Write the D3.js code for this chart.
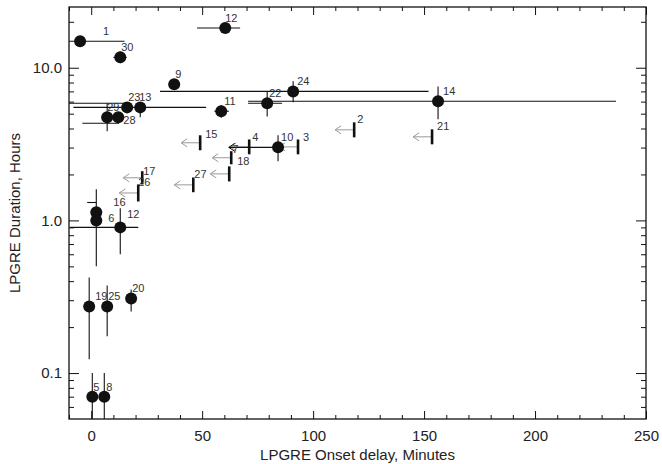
<!DOCTYPE html>
<html>
<head>
<meta charset="utf-8">
<script src="https://cdn.jsdelivr.net/npm/d3@7"></script>
<style>
  body { margin: 0; background: #fff; }
  text { font-family: "Liberation Sans", Arial, sans-serif; }
</style>
</head>
<body>
<script>
// events with measured onset delay (minutes) and duration (hours)
var points = [
  {id: "1",   x: -5,    y: 14.9},
  {id: "12a", x: 60.4,  y: 18.2},
  {id: "30",  x: 13.1,  y: 11.7},
  {id: "9",   x: 37.4,  y: 7.8},
  {id: "24",  x: 91,    y: 7.0},
  {id: "14",  x: 156.3, y: 6.03},
  {id: "22",  x: 79.3,  y: 5.85},
  {id: "11",  x: 58.6,  y: 5.19},
  {id: "23",  x: 16.2,  y: 5.5},
  {id: "13",  x: 22.1,  y: 5.5},
  {id: "29",  x: 7.2,   y: 4.74},
  {id: "28",  x: 12.2,  y: 4.74},
  {id: "10",  x: 84.2,  y: 3.01},
  {id: "16",  x: 2.3,   y: 1.13},
  {id: "6",   x: 2.3,   y: 1.0},
  {id: "12b", x: 13.1,  y: 0.90},
  {id: "19",  x: -0.9,  y: 0.273},
  {id: "25",  x: 7.2,   y: 0.273},
  {id: "20",  x: 18,    y: 0.308},
  {id: "5",   x: 0.5,   y: 0.070},
  {id: "8",   x: 5.9,   y: 0.070}
];

// horizontal error bars (minutes)
var xErr = [
  {id: "1",   lo: -10,  hi: 15},
  {id: "12a", lo: 47.7, hi: 67.1},
  {id: "30",  lo: 10,   hi: 16},
  {id: "24",  lo: 31,   hi: 152},
  {id: "14",  lo: 70.7, hi: 236.5},
  {id: "22",  lo: 70.7, hi: 86},
  {id: "11",  lo: 55.5, hi: 62},
  {id: "13",  lo: -8,   hi: 51.8},
  {id: "10",  lo: 62,   hi: 84.2},
  {id: "12b", lo: -9.5, hi: 21.2}
];

// vertical error bars (hours)
var yErr = [
  {id: "30",  lo: 10.7,  hi: 12.8},
  {id: "24",  lo: 5.94,  hi: 8.15},
  {id: "14",  lo: 4.6,   hi: 7.55},
  {id: "22",  lo: 4.8,   hi: 7.0},
  {id: "11",  lo: 4.7,   hi: 5.7},
  {id: "13",  lo: 4.74,  hi: 5.5},
  {id: "29",  lo: 3.83,  hi: 5.85},
  {id: "28",  lo: 4.33,  hi: 4.74},
  {id: "10",  lo: 2.44,  hi: 3.61},
  {id: "16",  lo: 1.13,  hi: 1.6},
  {id: "6",   lo: 0.5,   hi: 1.0},
  {id: "12b", lo: 0.6,   hi: 1.2},
  {id: "19",  lo: 0.123, hi: 0.423},
  {id: "25",  lo: 0.174, hi: 0.375},
  {id: "20",  lo: 0.253, hi: 0.353},
  {id: "5",   lo: 0.05,  hi: 0.1},
  {id: "8",   lo: 0.05,  hi: 0.1}
];

// loose horizontal bars without a marker
var extraBars = [
  {y: 5.85, x0: -10,  x1: 15.8},
  {y: 4.33, x0: -4,   x1: 12.6},
  {y: 1.31, x0: -1.8, x1: 2.3}
];

// upper limits on onset delay: bar spans the duration range
var limits = [
  {id: "15", x: 49.1,  lo: 2.88, hi: 3.61},
  {id: "4",  x: 71.2,  lo: 2.71, hi: 3.39},
  {id: "3",  x: 93.2,  lo: 2.71, hi: 3.39},
  {id: "2",  x: 118.5, lo: 3.50, hi: 4.39},
  {id: "21", x: 153.6, lo: 3.15, hi: 3.95},
  {id: "7",  x: 63.1,  lo: 2.33, hi: 2.84},
  {id: "18", x: 62.2,  lo: 1.80, hi: 2.26},
  {id: "27", x: 46,    lo: 1.53, hi: 1.91},
  {id: "17", x: 23,    lo: 1.72, hi: 2.10},
  {id: "26", x: 21.2,  lo: 1.33, hi: 1.72}
];

var xMajor = [0, 50, 100, 150, 200, 250];
var xMinor = d3.range(-10, 251, 10).filter(function(v) { return v % 50 !== 0; });
var yMajor = [0.1, 1, 10];
var yMinor = [0.06, 0.07, 0.08, 0.09, 0.2, 0.3, 0.4, 0.5, 0.6, 0.7, 0.8, 0.9,
              2, 3, 4, 5, 6, 7, 8, 9, 20];

var W = 662, H = 464;
var pL = 69, pR = 646, pT = 7, pB = 419;

var svg = d3.select("body").append("svg")
  .attr("width", W).attr("height", H);

var x = d3.scaleLinear().domain([-10, 250]).range([pL, pR]);
var y = d3.scaleLog().domain([0.05, 25]).range([pB, pT]);

function lbl(id) { return id.replace(/[ab]$/, ""); }

// axes, ticks pointing inward on all sides
function styleAxis(g) {
  g.select(".domain").remove();
  g.selectAll("line").attr("stroke", "#111");
  g.selectAll("text").attr("fill", "#222").style("font-size", "15px")
    .style("font-family", "'Liberation Sans', Arial, sans-serif");
}

svg.append("g").attr("transform", "translate(0," + pB + ")")
  .call(d3.axisBottom(x).tickValues(xMajor).tickSize(-8).tickPadding(11)
        .tickFormat(d3.format("d")))
  .call(styleAxis);
svg.append("g").attr("transform", "translate(0," + pB + ")")
  .call(d3.axisBottom(x).tickValues(xMinor).tickSize(-4).tickFormat(""))
  .call(styleAxis);
svg.append("g").attr("transform", "translate(0," + pT + ")")
  .call(d3.axisTop(x).tickValues(xMajor).tickSize(-8).tickFormat(""))
  .call(styleAxis);
svg.append("g").attr("transform", "translate(0," + pT + ")")
  .call(d3.axisTop(x).tickValues(xMinor).tickSize(-4).tickFormat(""))
  .call(styleAxis);

svg.append("g").attr("transform", "translate(" + pL + ",0)")
  .call(d3.axisLeft(y).tickValues(yMajor).tickSize(-10).tickPadding(7)
        .tickFormat(d3.format(".1f")))
  .call(styleAxis);
svg.append("g").attr("transform", "translate(" + pL + ",0)")
  .call(d3.axisLeft(y).tickValues(yMinor).tickSize(-5).tickFormat(""))
  .call(styleAxis);
svg.append("g").attr("transform", "translate(" + pR + ",0)")
  .call(d3.axisRight(y).tickValues(yMajor).tickSize(-10).tickFormat(""))
  .call(styleAxis);
svg.append("g").attr("transform", "translate(" + pR + ",0)")
  .call(d3.axisRight(y).tickValues(yMinor).tickSize(-5).tickFormat(""))
  .call(styleAxis);

svg.append("rect")
  .attr("x", pL).attr("y", pT)
  .attr("width", pR - pL).attr("height", pB - pT)
  .attr("fill", "none").attr("stroke", "#111").attr("stroke-width", 1.3);

// axis titles
svg.append("text")
  .attr("x", (pL + pR) / 2).attr("y", 460)
  .attr("text-anchor", "middle").attr("fill", "#222")
  .style("font-size", "15px")
  .text("LPGRE Onset delay, Minutes");
svg.append("text")
  .attr("transform", "translate(20," + ((pT + pB) / 2) + ") rotate(-90)")
  .attr("text-anchor", "middle").attr("fill", "#222")
  .style("font-size", "15px")
  .text("LPGRE Duration, Hours");

var plot = svg.append("g");
var byId = {};
points.forEach(function(p) { byId[p.id] = p; });

// gray left arrows of the limit markers
var arrowLen = 19;
limits.forEach(function(d) {
  var ym = y(Math.sqrt(d.lo * d.hi)), x0 = x(d.x), tip = x0 - arrowLen;
  var g = plot.append("g").attr("stroke", "#9a9a9a").attr("stroke-width", 1).attr("fill", "none");
  g.append("line").attr("x1", x0).attr("x2", tip).attr("y1", ym).attr("y2", ym);
  g.append("path").attr("d", "M" + (tip + 6) + "," + (ym - 4) + "L" + tip + "," + ym + "L" + (tip + 6) + "," + (ym + 4));
});

// error bars
plot.selectAll(".xerr").data(xErr).enter().append("line")
  .attr("x1", function(d) { return x(d.lo); })
  .attr("x2", function(d) { return x(d.hi); })
  .attr("y1", function(d) { return y(byId[d.id].y); })
  .attr("y2", function(d) { return y(byId[d.id].y); })
  .attr("stroke", "#111").attr("stroke-width", 1.1);

plot.selectAll(".yerr").data(yErr).enter().append("line")
  .attr("x1", function(d) { return x(byId[d.id].x); })
  .attr("x2", function(d) { return x(byId[d.id].x); })
  .attr("y1", function(d) { return y(d.lo); })
  .attr("y2", function(d) { return y(d.hi); })
  .attr("stroke", "#111").attr("stroke-width", 1.1);

plot.selectAll(".extra").data(extraBars).enter().append("line")
  .attr("x1", function(d) { return x(d.x0); })
  .attr("x2", function(d) { return x(d.x1); })
  .attr("y1", function(d) { return y(d.y); })
  .attr("y2", function(d) { return y(d.y); })
  .attr("stroke", "#111").attr("stroke-width", 1.1);

// open arrow head at the left end of event 10's range
(function() {
  var e = xErr.filter(function(d) { return d.id === "10"; })[0];
  var tx = x(e.lo), ty = y(byId["10"].y);
  plot.append("path")
    .attr("d", "M" + (tx + 6) + "," + (ty - 4) + "L" + tx + "," + ty + "L" + (tx + 6) + "," + (ty + 4))
    .attr("fill", "none").attr("stroke", "#111").attr("stroke-width", 1);
})();

// thick limit bars
plot.selectAll(".lim").data(limits).enter().append("line")
  .attr("x1", function(d) { return x(d.x); })
  .attr("x2", function(d) { return x(d.x); })
  .attr("y1", function(d) { return y(d.lo); })
  .attr("y2", function(d) { return y(d.hi); })
  .attr("stroke", "#111").attr("stroke-width", 2.6);

// markers
plot.selectAll(".pt").data(points).enter().append("circle")
  .attr("cx", function(d) { return x(d.x); })
  .attr("cy", function(d) { return y(d.y); })
  .attr("r", 6)
  .attr("fill", "#111");

// labels
var ptNudge = {
  "1": [23, -6], "28": [5, 7], "16": [17, -6], "6": [12, 2], "12b": [7, -9],
  "19": [6, -6], "14": [5, -6], "24": [4, -6], "11": [3, -6], "10": [3, -6],
  "29": [0, -6], "13": [-1, -6], "12a": [0, -6], "23": [1, -6], "30": [1, -6],
  "9": [1, -6], "25": [1, -6], "20": [1, -6], "5": [1, -6]
};
var limNudge = {"26": [0, 2], "7": [1, 2], "18": [8, -1], "27": [1, 1], "17": [1, 4],
                "15": [5, 3], "4": [3, 2], "2": [3, 1], "21": [5, 1], "3": [5, 2]};

plot.selectAll(".ptl").data(points).enter().append("text")
  .attr("x", function(d) { return x(d.x) + (ptNudge[d.id] || [2, -6])[0]; })
  .attr("y", function(d) { return y(d.y) + (ptNudge[d.id] || [2, -6])[1]; })
  .attr("fill", "#333").style("font-size", "11px")
  .text(function(d) { return lbl(d.id); });

plot.selectAll(".liml").data(limits).enter().append("text")
  .attr("x", function(d) { return x(d.x) + (limNudge[d.id] || [4, 2])[0]; })
  .attr("y", function(d) { return y(d.hi) + (limNudge[d.id] || [4, 2])[1]; })
  .attr("fill", "#333").style("font-size", "11px")
  .text(function(d) { return d.id; });
</script>
</body>
</html>
